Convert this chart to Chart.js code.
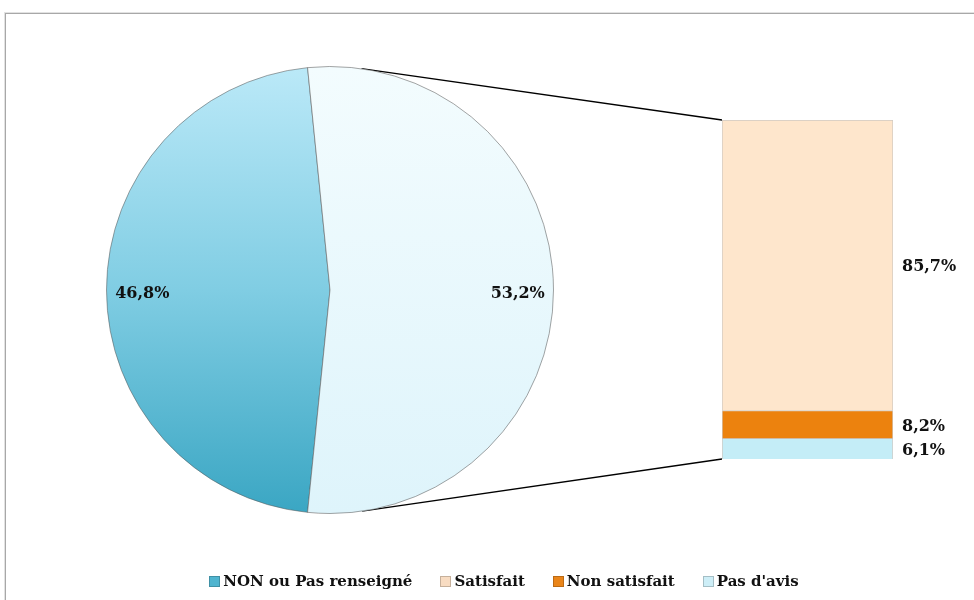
<!DOCTYPE html>
<html>
<head>
<meta charset="utf-8">
<script src="https://cdn.jsdelivr.net/npm/chart.js@4.4.1/dist/chart.umd.min.js"></script>
<style>
  body { margin: 0; background: #fff; }
  #wrap { position: relative; width: 974px; height: 600px; overflow: hidden; }
  #frame { position: absolute; left: 5px; top: 13px; width: 1000px; height: 700px;
           border-top: 1px solid #a8a8a8; border-left: 1px solid #a8a8a8;
           box-shadow: -1px -1px 0 #e2e2e2; }
  canvas { position: absolute; left: 0; top: 0; }
  #legend { position: absolute; left: 0; width: 974px; top: 572px; display: flex; box-sizing: border-box;
            padding-left: 34px; justify-content: center; font: bold 15px "DejaVu Serif", serif; color: #111; }
  #legend span.item { display: inline-flex; align-items: center; margin: 0 14px; }
  #legend i { display: inline-block; width: 9px; height: 9px; margin-right: 3px;
              border: 1px solid rgba(0,0,0,0.2); }
</style>
</head>
<body>
<div id="wrap">
  <div id="frame"></div>
  <canvas id="bar-chart" width="974" height="600"></canvas>
  <canvas id="pie-chart" width="974" height="600"></canvas>
  <div id="legend"></div>
</div>
<script>
// pie: first slice is "NON ou Pas renseigné", second is the part broken down in the bar
const pieLabels = ['NON ou Pas renseigné', 'OUI'];
const pieValues = [46.8, 53.2];
const pieLabelText = ['46,8%', '53,2%'];

// bar, bottom to top
const barLabels = ['Pas d\'avis', 'Non satisfait', 'Satisfait'];
const barValues = [6.1, 8.2, 85.7];
const barLabelText = ['6,1%', '8,2%', '85,7%'];

const legendLabels = ['NON ou Pas renseigné', 'Satisfait', 'Non satisfait', 'Pas d\'avis'];
const legendColors = ['#4fb4cf', '#f8dcc2', '#ea8519', '#cdeef7'];

const labelFont = 'bold 16px "DejaVu Serif", serif';

const gradient = (ctx, area, stops) => {
  const g = ctx.createLinearGradient(0, area.top, 0, area.bottom);
  stops.forEach(([p, c]) => g.addColorStop(p, c));
  return g;
};

const pieFills = [
  [[0, '#bbe9f8'], [0.5, '#80cde3'], [1, '#3aa6c3']],
  [[0, '#f3fcfe'], [1, '#def4fb']],
];

const pieLabelsPlugin = {
  id: 'pieLabels',
  afterDatasetsDraw(chart) {
    const ctx = chart.ctx;
    const arcs = chart.getDatasetMeta(0).data;
    ctx.save();
    ctx.font = labelFont;
    ctx.fillStyle = '#111';
    ctx.textAlign = 'center';
    ctx.textBaseline = 'middle';
    arcs.forEach((arc, i) => {
      const mid = (arc.startAngle + arc.endAngle) / 2;
      const r = arc.outerRadius * 0.84;
      ctx.fillText(pieLabelText[i], arc.x + Math.cos(mid) * r, arc.y + Math.sin(mid) * r + 4);
    });
    ctx.restore();
  },
};

const pieChart = new Chart(document.getElementById('pie-chart'), {
  type: 'pie',
  data: {
    labels: pieLabels,
    datasets: [{
      data: pieValues,
      backgroundColor: (c) => {
        const area = c.chart.chartArea;
        if (!area) return '#80cde3';
        return gradient(c.chart.ctx, area, pieFills[c.dataIndex]);
      },
      borderColor: 'rgba(90,90,90,0.55)',
      borderWidth: 1,
    }],
  },
  options: {
    responsive: false,
    animation: false,
    // second slice centred on the right, facing the bar
    rotation: 90 + 180 * pieValues[1] / 100,
    layout: { padding: { left: 106, right: 420, top: 66, bottom: 86 } },
    plugins: { legend: { display: false }, tooltip: { enabled: false } },
  },
  plugins: [pieLabelsPlugin],
});

const connectorPlugin = {
  id: 'connectors',
  afterDatasetsDraw(chart) {
    const ctx = chart.ctx;
    const arc = pieChart.getDatasetMeta(0).data[0];
    const top = chart.getDatasetMeta(2).data[0];
    const bottom = chart.getDatasetMeta(0).data[0];
    const cx = arc.x, cy = arc.y, r = arc.outerRadius;
    const tangent = (px, py, sign) => {
      const d = Math.hypot(px - cx, py - cy);
      const a = Math.atan2(py - cy, px - cx) + sign * Math.acos(r / d);
      return [cx + Math.cos(a) * r, cy + Math.sin(a) * r];
    };
    const left = top.x - top.width / 2;
    const p1 = tangent(left, top.y, -1);
    const p2 = tangent(left, bottom.base, 1);
    ctx.save();
    ctx.strokeStyle = '#000';
    ctx.lineWidth = 1.3;
    ctx.beginPath();
    ctx.moveTo(p1[0], p1[1]); ctx.lineTo(left, top.y);
    ctx.moveTo(p2[0], p2[1]); ctx.lineTo(left, bottom.base);
    ctx.stroke();

    ctx.font = labelFont;
    ctx.fillStyle = '#111';
    ctx.textAlign = 'left';
    ctx.textBaseline = 'middle';
    barValues.forEach((v, i) => {
      const el = chart.getDatasetMeta(i).data[0];
      ctx.fillText(barLabelText[i], el.x + el.width / 2 + 9, (el.y + el.base) / 2 + 2);
    });
    ctx.restore();
  },
};

const barFills = [
  [[0, '#d3f3fb'], [1, '#c4edf7']],
  [[0, '#f5911c'], [1, '#ec820e']],
  [[0, '#fff0df'], [0.04, '#fee6cc'], [1, '#fde2c5']],
];

new Chart(document.getElementById('bar-chart'), {
  type: 'bar',
  data: {
    labels: [''],
    datasets: barLabels.map((label, i) => ({
      label,
      data: [barValues[i]],
      backgroundColor: (c) => {
        const el = c.element;
        if (!el || !isFinite(el.y) || !isFinite(el.base)) return barFills[i][1][1];
        return gradient(c.chart.ctx, { top: el.y, bottom: el.base }, barFills[i]);
      },
      borderColor: 'rgba(120,100,80,0.35)',
      borderWidth: 1,
      barPercentage: 1,
      categoryPercentage: 1,
    })),
  },
  options: {
    responsive: false,
    animation: false,
    layout: { padding: { left: 722, right: 81, top: 120, bottom: 141 } },
    scales: {
      x: { display: false, stacked: true },
      y: { display: false, stacked: true, min: 0, max: 100 },
    },
    plugins: { legend: { display: false }, tooltip: { enabled: false } },
  },
  plugins: [connectorPlugin],
});

const legend = document.getElementById('legend');
legendLabels.forEach((label, i) => {
  const item = document.createElement('span');
  item.className = 'item';
  item.innerHTML = '<i style="background:' + legendColors[i] + '"></i>' + label;
  legend.appendChild(item);
});
</script>
</body>
</html>
